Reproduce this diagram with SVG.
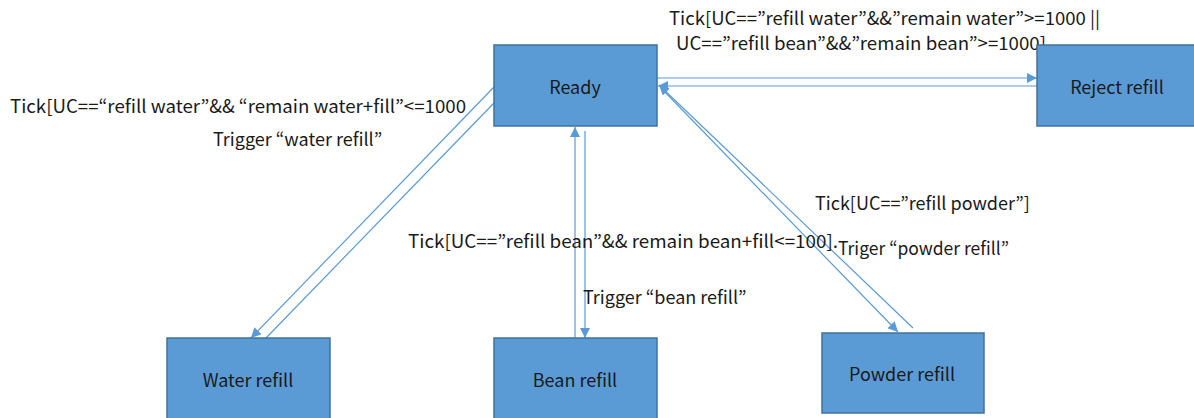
<svg xmlns="http://www.w3.org/2000/svg" width="1194" height="418" viewBox="0 0 1194 418">
<style>
.box{fill:#5B9BD5;stroke:#41719C;stroke-width:1.5}
.nl{font-family:"Noto Sans CJK KR","Noto Sans",sans-serif;font-size:18px;fill:#1a1a1a;text-anchor:middle;dominant-baseline:central}
.lb{font-family:"Noto Sans CJK KR","Noto Sans",sans-serif;font-size:18px;fill:#1a1a1a}
.cn{stroke:#5B9BD5;stroke-width:1.2;fill:none}
</style>
<defs>
<marker id="ah" viewBox="0 0 10 10" refX="10" refY="5" markerWidth="10" markerHeight="10" markerUnits="userSpaceOnUse" orient="auto">
<path d="M0,0 L10,5 L0,10 Z" fill="#5B9BD5"/>
</marker>
</defs>
<rect width="1194" height="418" fill="#ffffff"/>
<g id="connectors">
<line class="cn" x1="657" y1="78" x2="1037" y2="78" marker-end="url(#ah)"/>
<line class="cn" x1="1037" y1="86" x2="658" y2="86" marker-end="url(#ah)"/>
<line class="cn" x1="494" y1="87" x2="251" y2="338" marker-end="url(#ah)"/>
<line class="cn" x1="266" y1="338" x2="494" y2="103"/>
<line class="cn" x1="575" y1="338" x2="575" y2="127" marker-end="url(#ah)"/>
<line class="cn" x1="585" y1="131" x2="585" y2="338" marker-end="url(#ah)"/>
<line class="cn" x1="662" y1="89" x2="898" y2="332" marker-end="url(#ah)"/>
<line class="cn" x1="913" y1="328" x2="659" y2="85" marker-end="url(#ah)"/>
<text class="lb" x="669" y="25" textLength="431" lengthAdjust="spacingAndGlyphs">Tick[UC==”refill water”&amp;&amp;”remain water”&gt;=1000 ||</text>
<text class="lb" x="676" y="50" textLength="370" lengthAdjust="spacingAndGlyphs">UC==”refill bean”&amp;&amp;”remain bean”&gt;=1000]</text>
<text class="lb" x="10" y="113" textLength="456" lengthAdjust="spacingAndGlyphs">Tick[UC==“refill water”&amp;&amp; “remain water+fill”&lt;=1000</text>
<text class="lb" x="213" y="146">Trigger “water refill”</text>
<text class="lb" x="408" y="248" textLength="430" lengthAdjust="spacingAndGlyphs">Tick[UC==”refill bean”&amp;&amp; remain bean+fill&lt;=100].</text>
<text class="lb" x="583" y="304">Trigger “bean refill”</text>
<text class="lb" x="815" y="210">Tick[UC==”refill powder”]</text>
<text class="lb" x="838" y="255" textLength="171" lengthAdjust="spacingAndGlyphs">Triger “powder refill”</text>
</g>
<g id="ready"><rect class="box" x="494" y="45" width="163" height="81"/><text class="nl" x="575" y="86">Ready</text></g>
<g id="reject"><rect class="box" x="1037" y="45" width="163" height="81"/><text class="nl" x="1117" y="86">Reject refill</text></g>
<g id="water"><rect class="box" x="167" y="338" width="163" height="81"/><text class="nl" x="248" y="379">Water refill</text></g>
<g id="bean"><rect class="box" x="494" y="338" width="163" height="81"/><text class="nl" x="575" y="379">Bean refill</text></g>
<g id="powder"><rect class="box" x="822" y="333" width="162" height="80"/><text class="nl" x="902" y="373">Powder refill</text></g>
</svg>
